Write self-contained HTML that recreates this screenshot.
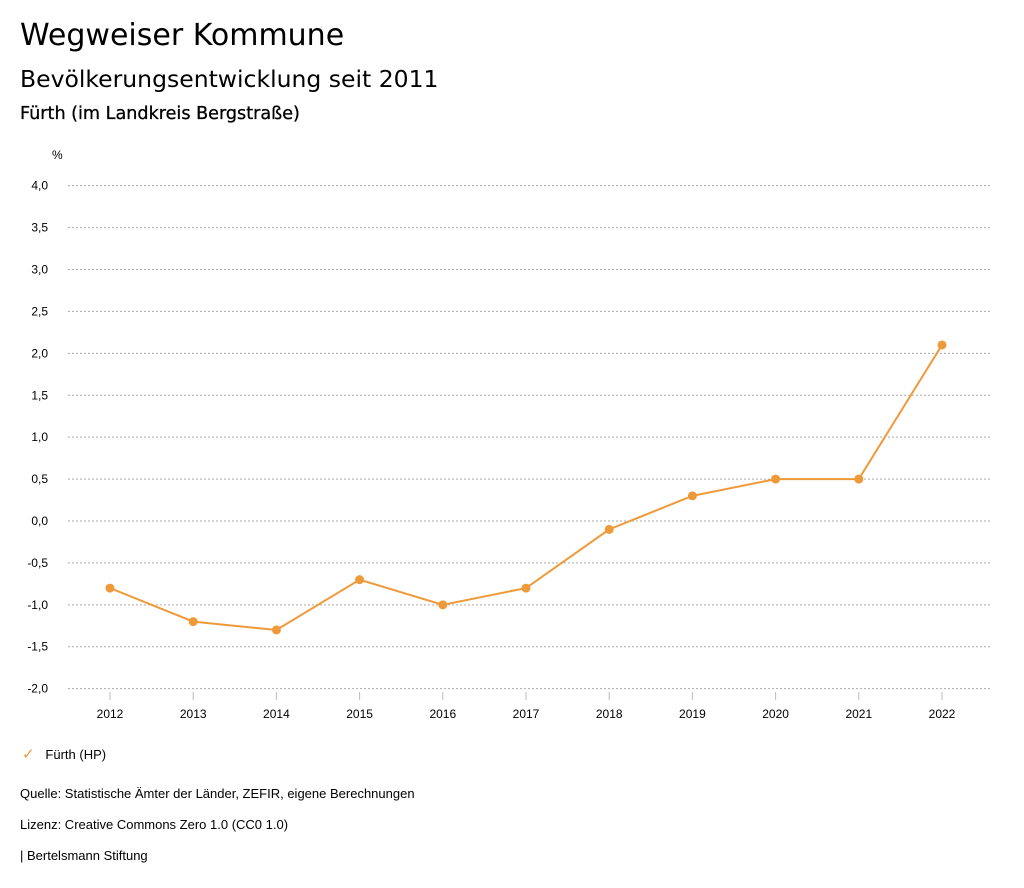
<!DOCTYPE html>
<html><head><meta charset="utf-8"><style>
body{margin:0;background:#fff;font-family:"Liberation Sans","DejaVu Sans",sans-serif;color:#000}
.t{position:absolute;left:20px;white-space:nowrap}
.d{font-family:"DejaVu Sans",sans-serif}
</style></head><body>
<div style="position:relative;width:1024px;height:888px;overflow:hidden">
<div class="t d" style="top:18px;font-size:30px">Wegweiser Kommune</div>
<div class="t d" style="top:65px;font-size:23.5px">Bevölkerungsentwicklung seit 2011</div>
<div class="t d" style="top:104px;font-size:17.6px;-webkit-text-stroke:0.3px #000">Fürth (im Landkreis Bergstraße)</div>
<svg id="c" width="1024" height="888" style="position:absolute;left:0;top:0"></svg>
<div class="t" style="top:745px;font-size:13px;left:22px"><span style="color:#ef9a3a;font-size:15px;font-weight:bold">✓</span>&nbsp;&nbsp;&nbsp;Fürth (HP)</div>
<div class="t" style="top:786px;font-size:13px">Quelle: Statistische Ämter der Länder, ZEFIR, eigene Berechnungen</div>
<div class="t" style="top:817px;font-size:13px">Lizenz: Creative Commons Zero 1.0 (CC0 1.0)</div>
<div class="t" style="top:848px;font-size:13px">| Bertelsmann Stiftung</div>
</div>
<script>
const years=[2012,2013,2014,2015,2016,2017,2018,2019,2020,2021,2022];
const values=[-0.8,-1.2,-1.3,-0.7,-1.0,-0.8,-0.1,0.3,0.5,0.5,2.1];
const yTicks=[4,3.5,3,2.5,2,1.5,1,0.5,0,-0.5,-1,-1.5,-2];
const svg=document.getElementById('c');const NS='http://www.w3.org/2000/svg';
const yS=v=>521-v*83.83;
const xS=i=>110+i*83.2;
function mk(t,a){const e=document.createElementNS(NS,t);for(const k in a)e.setAttribute(k,a[k]);svg.appendChild(e);return e;}
let u=mk('text',{x:52,y:159,'font-size':12});u.textContent='%';


yTicks.forEach(v=>{
 const g=mk('line',{x1:68,x2:990,y1:yS(v),y2:yS(v),stroke:'#aaa','stroke-dasharray':'2,2','stroke-width':1});
 
 
 const t=mk('text',{x:48,y:yS(v)+4,'text-anchor':'end','font-size':12});
 t.textContent=v.toFixed(1).replace('.',',');
 
 
});
years.forEach((y,i)=>{
 const l=mk('line',{x1:xS(i),x2:xS(i),y1:692,y2:700,stroke:'#bbb'});
 
 
 const t=mk('text',{x:xS(i),y:718,'text-anchor':'middle','font-size':12});
 t.textContent=y;
 
 
});
const p=mk('polyline',{points:values.map((v,i)=>xS(i)+','+yS(v)).join(' '),fill:'none',stroke:'#ef9a3a','stroke-width':2});


values.forEach((v,i)=>{
 const c=mk('circle',{cx:xS(i),cy:yS(v),r:4.5,fill:'#ef9a3a'});
 
 
});
</script>
</body></html>
